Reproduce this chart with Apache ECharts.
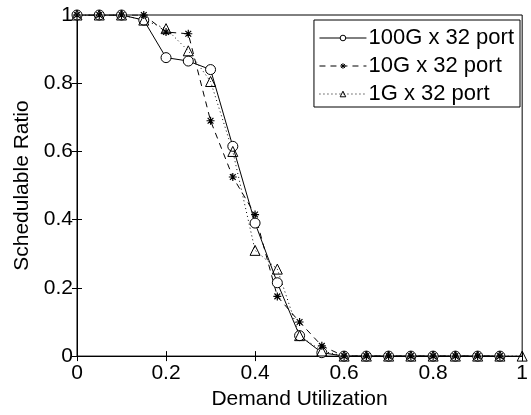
<!DOCTYPE html>
<html>
<head>
<meta charset="utf-8">
<script src="https://cdn.jsdelivr.net/npm/echarts@6/dist/echarts.min.js"></script>
<style>
html,body{margin:0;padding:0;background:#fff;}
#main{width:531px;height:415px;}
</style>
</head>
<body>
<div id="main"></div>
<script>
// demand utilization values (x)
var utilization = [0, 0.05, 0.1, 0.15, 0.2, 0.25, 0.3, 0.35, 0.4, 0.45, 0.5,
                   0.55, 0.6, 0.65, 0.7, 0.75, 0.8, 0.85, 0.9, 0.95, 1];
// schedulable ratio for each configuration
var ratio100G = [1, 1, 1, 0.985, 0.875, 0.865, 0.84, 0.615, 0.39, 0.215, 0.06,
                 0.01, 0, 0, 0, 0, 0, 0, 0, 0];
var ratio10G = [1, 1, 1, 1, 0.95, 0.945, 0.69, 0.525, 0.415, 0.175, 0.10,
                0.03, 0, 0, 0, 0, 0, 0, 0, 0];
var ratio1G = [1, 1, 1, 0.985, 0.96, 0.895, 0.805, 0.6, 0.31, 0.255, 0.06,
               0.015, 0, 0, 0, 0, 0, 0, 0, 0, 0];
var seriesNames = ['100G x 32 port', '10G x 32 port', '1G x 32 port'];

function pairs(ys){
    var out = [];
    for (var i = 0; i < ys.length; i++) out.push([utilization[i], ys[i]]);
    return out;
}

var starPath = 'path://M0,-5L0,5M-5,0L5,0M-3.6,-3.6L3.6,3.6M-3.6,3.6L3.6,-3.6';
var font = 'Liberation Sans, Arial, Helvetica, sans-serif';

var myChart = echarts.init(document.getElementById('main'));

var option = {
    backgroundColor: '#FFFFFF',
    animation: false,
    grid: {
        left: 77,
        right: 8,
        top: 15,
        bottom: 54,
        show: true,
        borderColor: '#000',
        borderWidth: 1
    },
    legend: {
        data: seriesNames,
        orient: 'vertical',
        right: 11,
        top: 20,
        itemWidth: 47,
        itemHeight: 7,
        itemGap: 6,
        padding: [7, 6, 2, 5],
        backgroundColor: '#fff',
        borderColor: '#000',
        borderWidth: 1,
        lineStyle: {width: 1},
        itemStyle: {borderWidth: 1},
        textStyle: {fontFamily: font, fontSize: 22, color: '#000', padding: [0, 0, 0, -3]}
    },
    xAxis: [{
        type: 'value',
        min: 0, max: 1, interval: 0.2,
        name: 'Demand Utilization',
        nameLocation: 'middle',
        nameGap: 30,
        nameTextStyle: {fontFamily: font, fontSize: 21, color: '#000'},
        axisLine: {lineStyle: {color: '#000', width: 1}},
        axisTick: {inside: true, length: 5, lineStyle: {color: '#000'}},
        axisLabel: {fontFamily: font, fontSize: 21, color: '#000', margin: 7},
        splitLine: {show: false}
    }, {
        type: 'value', position: 'top',
        min: 0, max: 1, interval: 0.2,
        axisLine: {lineStyle: {color: '#000'}},
        axisTick: {inside: true, length: 5, lineStyle: {color: '#000'}},
        axisLabel: {show: false},
        splitLine: {show: false}
    }],
    yAxis: [{
        type: 'value',
        min: 0, max: 1, interval: 0.2,
        name: 'Schedulable Ratio',
        nameLocation: 'middle',
        nameGap: 42,
        nameTextStyle: {fontFamily: font, fontSize: 21, color: '#000'},
        axisLine: {show: true, lineStyle: {color: '#000', width: 1}},
        axisTick: {inside: true, length: 5, lineStyle: {color: '#000'}},
        axisLabel: {fontFamily: font, fontSize: 21, color: '#000', margin: 4},
        splitLine: {show: false}
    }, {
        type: 'value', position: 'right',
        min: 0, max: 1, interval: 0.2,
        axisLine: {show: true, lineStyle: {color: '#000'}},
        axisTick: {show: true, inside: true, length: 5, lineStyle: {color: '#000'}},
        axisLabel: {show: false},
        splitLine: {show: false}
    }],
    series: [{
        name: seriesNames[0],
        type: 'line',
        data: pairs(ratio100G),
        symbol: 'circle',
        symbolSize: 10,
        showAllSymbol: true,
        lineStyle: {color: '#000', width: 1, type: 'solid'},
        itemStyle: {color: '#fff', borderColor: '#000', borderWidth: 1}
    }, {
        name: seriesNames[1],
        type: 'line',
        data: pairs(ratio10G),
        symbol: starPath,
        symbolSize: 8,
        showAllSymbol: true,
        lineStyle: {color: '#000', width: 1, type: [6, 5]},
        itemStyle: {color: '#000', borderColor: '#000', borderWidth: 1.2}
    }, {
        name: seriesNames[2],
        type: 'line',
        data: pairs(ratio1G),
        symbol: 'triangle',
        symbolSize: 10,
        showAllSymbol: true,
        lineStyle: {color: '#000', width: 1, type: [1, 3]},
        itemStyle: {color: 'rgba(255,255,255,0)', borderColor: '#000', borderWidth: 1}
    }]
};

myChart.setOption(option, true);
</script>
</body>
</html>
